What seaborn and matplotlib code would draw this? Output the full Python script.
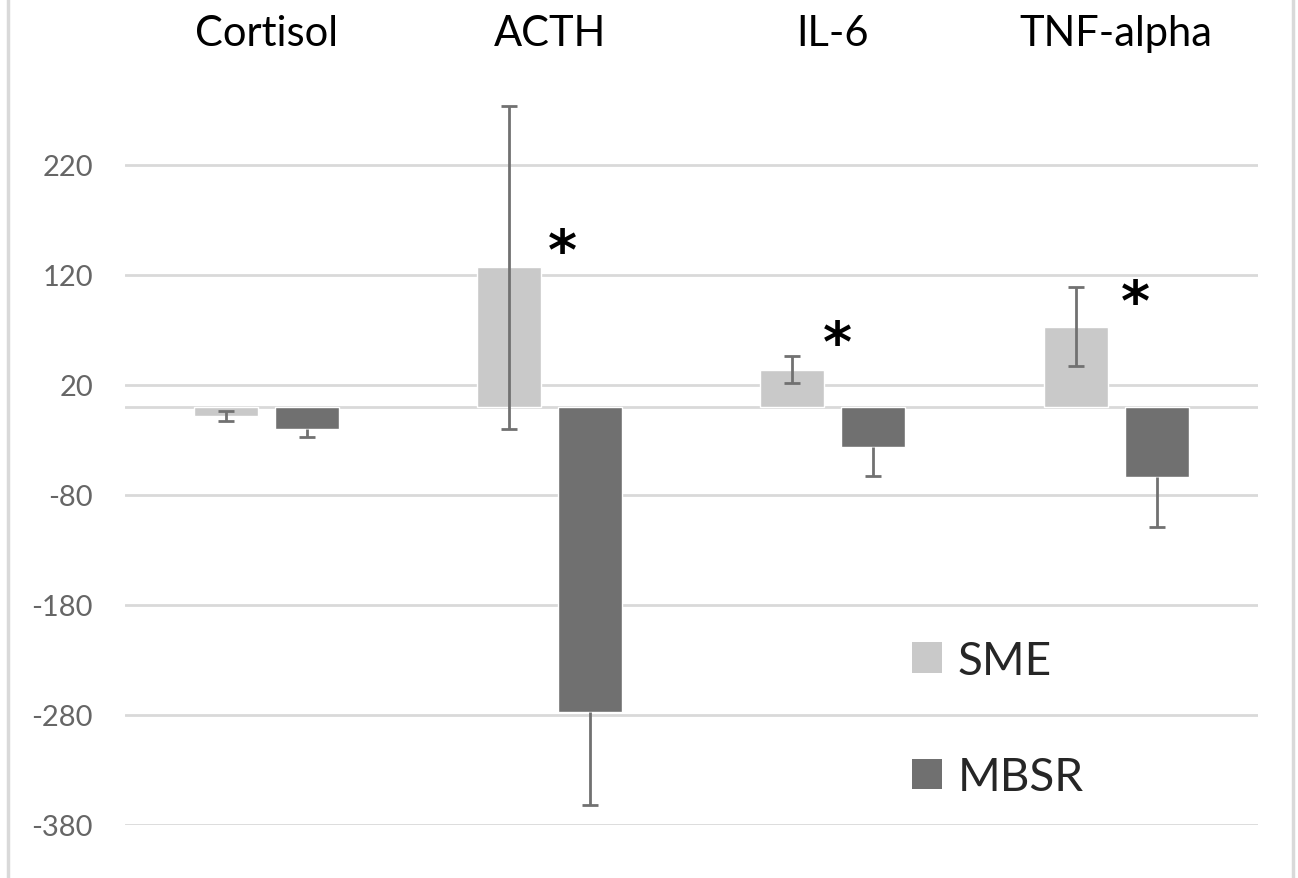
"""Change in stress markers, SME vs MBSR (bar chart with error bars)."""
import pandas as pd
import matplotlib
matplotlib.use("Agg")
import matplotlib.pyplot as plt
from matplotlib.lines import Line2D
from matplotlib.patches import Patch
import seaborn as sns

# values
markers = ["Cortisol", "ACTH", "IL-6", "TNF-alpha"]
groups = ["SME", "MBSR"]
sme_change = [-8, 127, 34, 73]
mbsr_change = [-20, -277, -36, -64]
sme_err = [4.5, 147, 12, 36]          # two-sided
mbsr_err = [7, 85, 27, 45]            # drawn downward only
star_y = [None, 140, 56, 94]          # '*' marks, None = no mark
star_dx = [0, 0.046, 0.014, 0.067]
yticks = [220, 120, 20, -80, -180, -280, -380]

colors = {"SME": "#c9c9c9", "MBSR": "#707070"}
grid_color = "#d9d9d9"

df = pd.DataFrame({
    "marker": markers * 2,
    "group": ["SME"] * len(markers) + ["MBSR"] * len(markers),
    "change": sme_change + mbsr_change,
})

sns.set_theme(style="white")
plt.rcParams["font.family"] = ["Lato", "DejaVu Sans"]
plt.rcParams["axes.unicode_minus"] = False

fig = plt.figure(figsize=(12.98, 8.79), dpi=100)
ax = fig.add_axes([0.0963, 0.0603, 0.8727, 0.8510])

sns.barplot(data=df, x="marker", y="change", hue="group", order=markers,
            hue_order=groups, palette=colors, width=0.572, gap=0.21,
            errorbar=None, legend=False, ax=ax, zorder=2)

# error bars on top of seaborn's bars
for i, grp in enumerate(groups):
    bars = ax.containers[i]
    xs = [b.get_x() + b.get_width() / 2 for b in bars]
    if grp == "SME":
        yerr = [sme_err, sme_err]
        ys = sme_change
    else:
        yerr = [mbsr_err, [0] * len(mbsr_err)]
        ys = mbsr_change
    eb = ax.errorbar(xs, ys, yerr=yerr, fmt="none", ecolor="#717171",
                     elinewidth=2, capsize=6, capthick=2, zorder=3)
    if grp == "MBSR":
        # no cap on the bar end side
        eb[1][1].set_visible(False)

for i, y in enumerate(star_y):
    if y is not None:
        ax.text(i + star_dx[i], y, "*", ha="center", va="center", fontsize=40,
                fontweight="bold", family="DejaVu Sans", color="black")

ax.set_ylim(-380, 300)
ax.set_xlim(-0.5, len(markers) - 0.5)
ax.set_yticks(yticks)
ax.yaxis.grid(True, color=grid_color, linewidth=2, zorder=0)
ax.set_axisbelow(True)
ax.axhline(0, color=grid_color, linewidth=2, zorder=1)
for s in ax.spines.values():
    s.set_visible(False)

ax.xaxis.tick_top()
ax.tick_params(axis="x", length=0, labelsize=30, pad=18, labelcolor="black")
ax.tick_params(axis="y", length=0, labelsize=21, pad=23, labelcolor="#666666")
ax.set_xlabel("")
ax.set_ylabel("")

handles = [Patch(facecolor=colors[g], edgecolor="none", label=g) for g in groups]
fig.legend(handles=handles, loc="center left", bbox_to_anchor=(0.703, 0.181),
           bbox_transform=fig.transFigure, frameon=False, fontsize=33,
           handlelength=0.65, handleheight=0.65, handletextpad=0.33,
           labelspacing=1.62, borderpad=0, borderaxespad=0)

# light frame edges at left and right like the source
for xf in (8 / 1298, 1293 / 1298):
    fig.add_artist(Line2D([xf, xf], [0, 1], transform=fig.transFigure,
                          color=grid_color, linewidth=2.5))

fig.savefig("out.png", dpi=100)
